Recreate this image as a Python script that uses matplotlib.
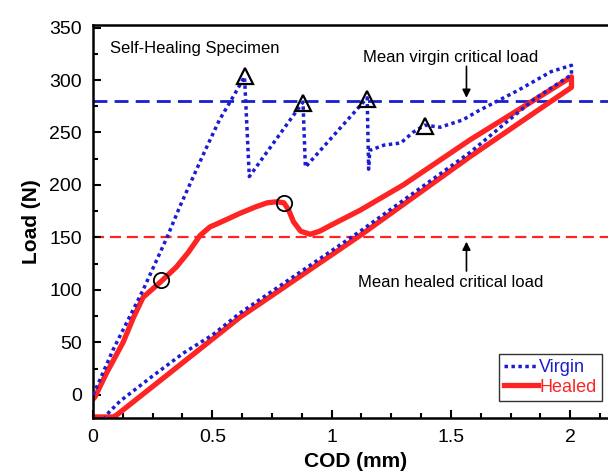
import matplotlib
matplotlib.use("Agg")
import matplotlib.pyplot as plt
from matplotlib.ticker import MultipleLocator

plt.rcParams['font.family'] = ['Liberation Sans', 'DejaVu Sans']

# Virgin (blue dotted) loading / unloading curve
virgin_cod = [0.0, 0.03, 0.084, 0.126, 0.21, 0.31, 0.365, 0.47, 0.53, 0.587, 0.635,
              0.655, 0.88, 0.89, 1.149, 1.155, 1.16, 1.22, 1.29, 1.34, 1.39, 1.455, 1.55, 1.61,
              1.78, 1.92, 2.005,
              2.005, 1.85, 1.58, 1.12, 0.616, 0.5, 0.38, 0.25, 0.17, 0.113, 0.065, 0.05]
virgin_load = [0, 15, 43, 62, 100, 150, 180, 233, 262, 284, 303,
               208, 279, 217, 283, 215, 233, 238, 240, 250, 257, 255, 262, 270,
               290, 308, 314,
               305, 282, 231, 156, 78, 57, 40, 18, 4, -6, -17, -22]

# Healed (red solid) loading / unloading curve
healed_cod = [0.0, 0.008, 0.057, 0.126, 0.17, 0.21, 0.25, 0.285, 0.35, 0.40, 0.449, 0.49,
              0.53, 0.616, 0.68, 0.73, 0.77, 0.80, 0.82, 0.84, 0.87, 0.91, 0.95, 1.0, 1.12,
              1.3, 1.58, 1.8, 2.005,
              2.005, 1.58, 1.12, 0.616, 0.25, 0.10, 0.085, 0.0]
healed_load = [-4, -2, 21, 50, 74, 93, 101, 108, 122, 136, 152, 160,
               164, 173, 179, 183, 184, 183, 176, 165, 156, 153, 156, 162, 176,
               200, 243, 274, 303,
               293, 227, 152, 74, 8, -19, -21, -21]

# Critical-point markers
tri_cod = [0.635, 0.88, 1.149, 1.39]
tri_load = [304, 278, 282, 256]
circ_cod = [0.285, 0.80]
circ_load = [109, 183]

virgin_mean = 280
healed_mean = 150

xticks = [0, 0.5, 1, 1.5, 2]
xticklabels = ['0', '0.5', '1', '1.5', '2']
yticks = [0, 50, 100, 150, 200, 250, 300, 350]

BLUE = '#1c1cd0'
RED = '#ff2424'

fig = plt.figure(figsize=(6.08, 4.71), dpi=100)
ax = fig.add_axes([93/608, 53/471, 525/608, 393/471])

ax.axhline(virgin_mean, color=BLUE, lw=2, ls=(0, (5, 2.6)), zorder=1)
ax.axhline(healed_mean, color=RED, lw=1.6, ls=(0, (5, 2.6)), zorder=1)

ax.plot(healed_cod, healed_load, color=RED, lw=3.8, solid_joinstyle='round',
        label='Healed', zorder=2)
ax.plot(virgin_cod, virgin_load, color=BLUE, lw=2.5, ls=(0, (1, 1)),
        label='Virgin', zorder=3)

ax.plot(tri_cod, tri_load, ls='none', marker='^', ms=12, mfc='none', mec='black',
        mew=1.6, zorder=4)
ax.plot(circ_cod, circ_load, ls='none', marker='o', ms=11, mfc='none', mec='black',
        mew=1.3, zorder=4)

ax.text(0.07, 330, 'Self-Healing Specimen', fontsize=12, ha='left', va='center')
ax.text(1.5, 321, 'Mean virgin critical load', fontsize=12, ha='center', va='center')
ax.annotate('', xy=(1.565, 283), xytext=(1.565, 313),
            arrowprops=dict(arrowstyle='-|>', color='black', lw=1.2, mutation_scale=12,
                            shrinkA=0, shrinkB=0))
ax.text(1.5, 107, 'Mean healed critical load', fontsize=12, ha='center', va='center')
ax.annotate('', xy=(1.565, 146), xytext=(1.565, 118),
            arrowprops=dict(arrowstyle='-|>', color='black', lw=1.2, mutation_scale=12,
                            shrinkA=0, shrinkB=0))

ax.set_xlim(0, 2.2)
ax.set_ylim(-22, 352.4)
ax.set_xticks(xticks)
ax.set_xticklabels(xticklabels)
ax.set_yticks(yticks)
ax.xaxis.set_minor_locator(MultipleLocator(0.125))
ax.yaxis.set_minor_locator(MultipleLocator(25))
ax.tick_params(which='both', direction='in', top=False, right=False, labelsize=14, width=1.5)
ax.tick_params(which='major', length=6, pad=8)
ax.tick_params(which='minor', length=3.5)
for s in ax.spines.values():
    s.set_linewidth(1.8)

ax.set_xlabel('COD (mm)', fontsize=15, fontweight='bold', labelpad=4)
ax.set_ylabel('Load (N)', fontsize=15, fontweight='bold', labelpad=6)

leg = ax.legend(handles=[ax.lines[3], ax.lines[2]], loc='lower right',
                bbox_to_anchor=(0.9695, 0.043), borderaxespad=0, fontsize=13,
                handlelength=1.9, handletextpad=0.05, borderpad=0.3, labelspacing=0.15,
                frameon=True, fancybox=False, framealpha=1, edgecolor='#333333')
leg.get_frame().set_linewidth(1.0)
for t, c in zip(leg.get_texts(), [BLUE, RED]):
    t.set_color(c)

fig.savefig('out.png', dpi=100)
